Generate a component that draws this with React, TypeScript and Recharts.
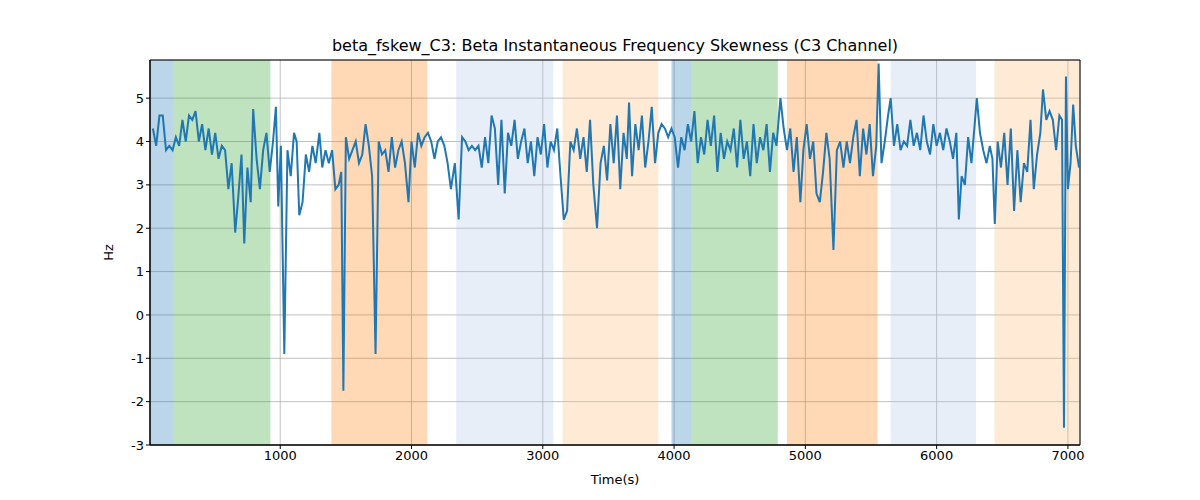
import { ComposedChart, Line, XAxis, YAxis, CartesianGrid, ReferenceArea } from 'recharts';

// time (s) and skewness values
const times = [
  30, 55, 80, 105, 130, 155, 180, 205, 230, 255, 280, 305, 330, 355, 380, 405, 430, 455, 480, 505,
  530, 555, 580, 605, 630, 657, 680, 705, 726, 750, 775, 794, 820, 845, 870, 895, 920, 945, 967, 985,
  1005, 1031, 1055, 1080, 1105, 1125, 1145, 1170, 1195, 1220, 1245, 1270, 1298, 1320, 1345, 1370, 1395, 1420, 1445, 1465,
  1481, 1500, 1525, 1550, 1575, 1600, 1625, 1650, 1675, 1700, 1726, 1750, 1775, 1800, 1825, 1850, 1875, 1900, 1925, 1950,
  1977, 2000, 2025, 2050, 2075, 2100, 2125, 2150, 2175, 2200, 2225, 2250, 2275, 2300, 2330, 2359, 2385, 2410, 2435, 2460,
  2485, 2510, 2535, 2560, 2585, 2610, 2635, 2660, 2685, 2710, 2735, 2760, 2785, 2810, 2835, 2860, 2885, 2910, 2935, 2960,
  2985, 3010, 3035, 3060, 3085, 3110, 3135, 3160, 3185, 3210, 3235, 3260, 3285, 3310, 3335, 3360, 3385, 3413, 3440, 3465,
  3490, 3515, 3540, 3565, 3590, 3615, 3640, 3657, 3680, 3705, 3730, 3755, 3780, 3805, 3830, 3855, 3880, 3905, 3930, 3955,
  3980, 4005, 4030, 4055, 4080, 4105, 4130, 4155, 4180, 4205, 4230, 4255, 4280, 4305, 4330, 4355, 4380, 4405, 4430, 4455,
  4480, 4505, 4530, 4555, 4580, 4605, 4630, 4655, 4680, 4705, 4730, 4755, 4780, 4810, 4835, 4860, 4885, 4910, 4935, 4962,
  4985, 5010, 5035, 5060, 5085, 5110, 5135, 5160, 5185, 5214, 5240, 5265, 5290, 5315, 5340, 5365, 5390, 5415, 5440, 5465,
  5490, 5515, 5540, 5558, 5580, 5605, 5630, 5650, 5675, 5700, 5725, 5750, 5775, 5800, 5825, 5850, 5875, 5900, 5925, 5950,
  5975, 6000, 6025, 6050, 6075, 6100, 6125, 6150, 6169, 6190, 6215, 6240, 6265, 6290, 6306, 6330, 6355, 6380, 6405, 6425,
  6443, 6465, 6490, 6515, 6540, 6565, 6590, 6615, 6640, 6665, 6690, 6715, 6740, 6765, 6790, 6810, 6835, 6860, 6885, 6910,
  6935, 6955, 6970, 6985, 7000, 7020, 7040, 7060, 7085,
];
const values = [
  4.3, 3.9, 4.6, 4.6, 3.8, 3.9, 3.8, 4.1, 3.9, 4.5, 4.0, 4.6, 4.5, 4.7, 4.0, 4.4, 3.8, 4.3, 3.7, 4.2,
  3.6, 3.9, 3.8, 2.9, 3.5, 1.9, 2.7, 3.7, 1.65, 3.4, 2.6, 4.75, 3.6, 2.9, 3.8, 4.2, 3.3, 4.0, 4.8, 2.5,
  3.9, -0.9, 3.8, 3.2, 4.2, 4.0, 2.3, 2.6, 3.7, 3.3, 3.9, 3.5, 4.2, 3.4, 3.8, 3.5, 3.8, 2.9, 3.0, 3.3,
  -1.75, 4.1, 3.6, 3.8, 4.0, 3.5, 3.7, 4.4, 3.9, 3.2, -0.9, 4.0, 3.7, 3.8, 3.3, 4.1, 3.4, 3.8, 4.0, 3.5,
  2.6, 4.0, 3.4, 4.2, 3.9, 4.1, 4.2, 4.0, 3.6, 4.0, 4.1, 3.9, 3.5, 2.9, 3.5, 2.2, 4.1, 4.0, 3.8, 3.9,
  3.8, 3.9, 3.4, 4.1, 3.5, 4.6, 4.3, 3.0, 4.5, 2.8, 4.2, 3.9, 4.5, 3.6, 4.0, 4.3, 3.5, 4.0, 3.2, 4.1,
  3.7, 4.4, 3.4, 4.0, 3.8, 4.3, 3.2, 2.2, 2.4, 4.0, 3.8, 4.3, 3.6, 4.1, 3.3, 4.5, 3.0, 2.0, 3.5, 3.9,
  3.1, 4.4, 3.5, 4.6, 2.9, 4.2, 3.6, 4.9, 3.2, 4.4, 3.8, 4.6, 3.4, 4.0, 4.8, 3.5, 4.2, 4.4, 4.3, 4.1,
  4.3, 4.1, 3.4, 4.1, 3.8, 4.4, 4.0, 4.7, 3.5, 4.1, 3.7, 4.5, 3.9, 4.6, 3.3, 4.2, 3.6, 4.0, 3.8, 4.3,
  3.4, 4.5, 3.6, 4.0, 3.2, 4.4, 3.5, 4.1, 3.8, 4.4, 3.3, 4.2, 3.9, 5.0, 4.3, 3.8, 4.3, 3.3, 4.1, 2.6,
  3.8, 4.4, 3.6, 4.0, 2.8, 2.6, 3.3, 4.2, 3.6, 1.5, 3.8, 4.0, 3.4, 4.0, 3.5, 4.1, 4.5, 3.2, 4.3, 3.7,
  4.4, 3.2, 3.9, 5.8, 3.5, 4.0, 4.6, 5.0, 3.9, 4.4, 3.8, 4.0, 3.9, 4.5, 3.9, 4.2, 3.8, 4.6, 4.0, 3.7,
  4.4, 3.9, 4.2, 3.8, 4.3, 4.0, 3.6, 4.2, 2.2, 3.2, 3.0, 4.1, 3.5, 4.4, 5.0, 4.2, 3.8, 3.5, 3.9, 3.6,
  2.1, 4.0, 3.4, 4.2, 3.0, 4.3, 2.4, 3.8, 2.6, 3.5, 3.3, 4.5, 2.9, 3.7, 4.2, 5.2, 4.5, 4.7, 4.5, 3.8,
  4.6, 4.5, -2.6, 5.5, 2.9, 3.5, 4.85, 3.9, 3.4,
];

const spans: [number, number, string, number][] = [
  [8, 190, '#1f77b4', 0.3],
  [190, 925, '#2ca02c', 0.3],
  [1390, 2120, '#ff7f0e', 0.3],
  [2340, 3080, '#aec7e8', 0.3],
  [3150, 3880, '#ffbb78', 0.3],
  [3980, 4130, '#1f77b4', 0.3],
  [4130, 4790, '#2ca02c', 0.3],
  [4860, 5550, '#ff7f0e', 0.3],
  [5650, 6300, '#aec7e8', 0.3],
  [6440, 7092, '#ffbb78', 0.3],
];

const xTicks = [1000, 2000, 3000, 4000, 5000, 6000, 7000];
const yTicks = [-3, -2, -1, 0, 1, 2, 3, 4, 5];

const data = times.map((t, i) => ({ t, v: values[i] }));

export default function App() {
  return (
    <div style={{ width: 1200, height: 500, position: 'relative', margin: -8, fontFamily: 'DejaVu Sans' }}>
      <div style={{ position: 'absolute', top: 36, left: 150, width: 930, textAlign: 'center', fontSize: 16 }}>
        beta_fskew_C3: Beta Instantaneous Frequency Skewness (C3 Channel)
      </div>
      <div style={{ position: 'absolute', top: 472, left: 150, width: 930, textAlign: 'center', fontSize: 13 }}>
        Time(s)
      </div>
      <div style={{ position: 'absolute', top: 245, left: 100, fontSize: 13, transform: 'rotate(-90deg)' }}>Hz</div>
      <ComposedChart
        width={1200}
        height={500}
        data={data}
        margin={{ top: 60, right: 120, bottom: 30, left: 100 }}
        style={{ position: 'absolute', top: 0, left: 0 }}
      >
        <CartesianGrid stroke="#b0b0b0" strokeWidth={0.8} />
        <XAxis
          dataKey="t"
          type="number"
          domain={[8, 7092]}
          ticks={xTicks}
          allowDataOverflow
          tick={{ fill: '#000', fontSize: 13 }}
          tickLine={{ stroke: '#000' }}
          axisLine={{ stroke: '#000' }}
          tickSize={4}
          height={25}
        />
        <YAxis
          type="number"
          domain={[-3, 5.88]}
          ticks={yTicks}
          allowDataOverflow
          tick={{ fill: '#000', fontSize: 13 }}
          tickLine={{ stroke: '#000' }}
          axisLine={{ stroke: '#000' }}
          tickSize={4}
          width={50}
        />
        {spans.map(([a, b, c, o], i) => (
          <ReferenceArea key={i} x1={a} x2={b} fill={c} fillOpacity={o} stroke="none" ifOverflow="hidden" />
        ))}
        <Line type="linear" dataKey="v" stroke="#1f77b4" strokeWidth={2} dot={false} isAnimationActive={false} />
        <ReferenceArea x1={8} x2={7092} y1={-3} y2={5.88} fill="none" stroke="#000" strokeWidth={1} />
      </ComposedChart>
    </div>
  );
}
